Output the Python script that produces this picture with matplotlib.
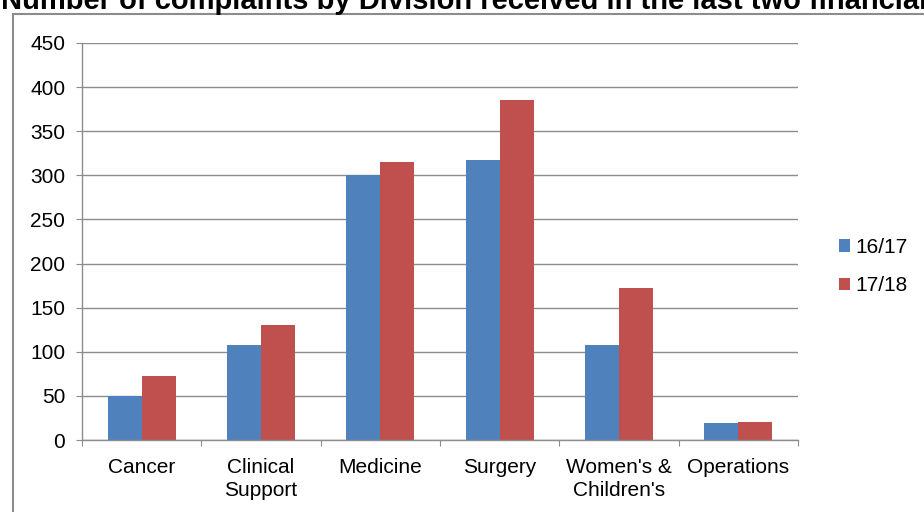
import matplotlib.pyplot as plt
import numpy as np
from matplotlib.patches import Rectangle

plt.rcParams['font.family'] = ['Liberation Sans', 'DejaVu Sans']

divisions = ['Cancer', 'Clinical\nSupport', 'Medicine', 'Surgery',
             "Women's &\nChildren's", 'Operations']
y1617 = [50, 108, 300, 317, 108, 19]
y1718 = [73, 130, 315, 385, 172, 20]
years = ['16/17', '17/18']

W, H = 924, 512
fig = plt.figure(figsize=(W / 100, H / 100), dpi=100)

# outer chart frame (runs off the right and bottom edges)
fig.patches.append(Rectangle((13 / W, -0.1), 1.2, 1 - 14 / H + 0.1,
                             transform=fig.transFigure, fill=False,
                             edgecolor='#8c8c8c', linewidth=1.5))

fig.text(1 / W, 1 - 9 / H,
         'Number of complaints by Division received in the last two financial years',
         fontsize=21, fontweight='bold', va='baseline', ha='left')

ax = fig.add_axes([82 / W, 1 - 440 / H, (798 - 82) / W, (440 - 43) / H])

x = np.arange(len(divisions))
bw = 0.285
ax.bar(x - bw / 2, y1617, bw, color='#4F81BD', label=years[0])
ax.bar(x + bw / 2, y1718, bw, color='#C0504D', label=years[1])

ax.set_xlim(-0.5, len(divisions) - 0.5)
ax.set_ylim(0, 450)
ax.set_yticks(range(0, 451, 50))
ax.yaxis.grid(True, color='#8c8c8c', linewidth=1)
ax.set_axisbelow(True)

ax.set_xticks(np.arange(-0.5, len(divisions), 1))
ax.set_xticklabels([])
ax.set_xticks(x, minor=True)
ax.set_xticklabels(divisions, minor=True, fontsize=15, linespacing=1.25)
ax.tick_params(axis='x', which='minor', length=0, pad=13)
ax.tick_params(axis='x', which='major', length=4.5, color='#8c8c8c', direction='out')
ax.tick_params(axis='y', length=4.5, color='#8c8c8c', labelsize=15, pad=7.5)

for s in ['top', 'right']:
    ax.spines[s].set_visible(False)
for s in ['left', 'bottom']:
    ax.spines[s].set_color('#8c8c8c')
    ax.spines[s].set_linewidth(1)

ax.legend(loc='center left', bbox_to_anchor=(839 / W, 1 - 266.5 / H),
          bbox_transform=fig.transFigure, frameon=False, fontsize=15,
          borderpad=0, borderaxespad=0,
          handlelength=0.55, handleheight=0.55, handletextpad=0.25,
          labelspacing=0.95)

fig.savefig('out.png', dpi=100)
